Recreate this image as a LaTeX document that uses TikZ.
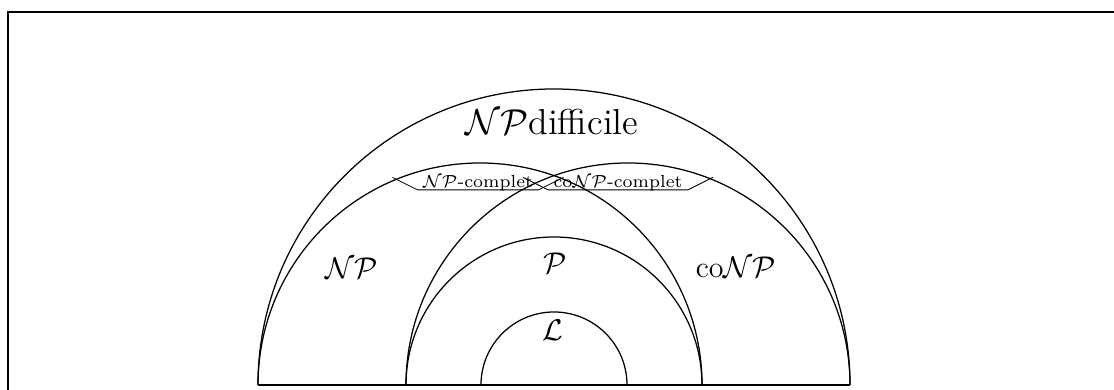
\documentclass[tikz,border=0pt]{standalone}
\begin{document}
\begin{tikzpicture}[x=0.4pt,y=0.4pt,
  arcline/.style={line width=0.5pt},
  frameline/.style={line width=0.9pt},
  lbl/.style={inner sep=0pt,font=\large},
  biglbl/.style={inner sep=0pt,font=\Large},
  smalllbl/.style={inner sep=0pt,font=\scriptsize},
  tick/.style={line width=0.35pt}]
\useasboundingbox (0,0) rectangle (1114,390);
% frame (only left and top edges fall inside the picture)
\coordinate (fbl) at (8,-10);
\coordinate (ftl) at (8,378);
\coordinate (ftr) at (1124,378);
\draw[frameline] (fbl) -- (ftl) -- (ftr);
% base points
\coordinate (a) at (258,5);
\coordinate (b) at (406,5);
\coordinate (c) at (481,5);
\coordinate (d) at (627,5);
\coordinate (e) at (702,5);
\coordinate (f) at (850,5);
\draw[frameline] (a) -- (f);
% arcs
\draw[arcline] (a) arc[start angle=180,end angle=0,radius=296];
\draw[arcline] (a) arc[start angle=180,end angle=0,radius=222];
\draw[arcline] (b) arc[start angle=180,end angle=0,radius=222];
\draw[arcline] (b) arc[start angle=180,end angle=0,radius=148];
\draw[arcline] (c) arc[start angle=180,end angle=0,radius=73];
% labels
\node[biglbl] (nphard) at (552,268) {$\mathcal{NP}$difficile};
\node[lbl] (np) at (352,122) {$\mathcal{NP}$};
\node[lbl] (p) at (555,127) {$\mathcal{P}$};
\node[lbl] (conp) at (736,123) {co$\mathcal{NP}$};
\node[lbl] (l) at (553,60) {$\mathcal{L}$};
\node[smalllbl] (npc) at (478,207) {$\mathcal{NP}$-complet};
\node[smalllbl] (conpc) at (618,207) {co$\mathcal{NP}$-complet};
% small strokes around the small labels
\draw[tick] ([xshift=-12,yshift=4]npc.base west) -- ([xshift=-2,yshift=-1]npc.base west) -- ([xshift=2,yshift=-1]npc.base east) -- ([xshift=12,yshift=4]npc.base east);
\draw[tick] ([xshift=-12,yshift=4]conpc.base west) -- ([xshift=-2,yshift=-1]conpc.base west) -- ([xshift=2,yshift=-1]conpc.base east) -- ([xshift=12,yshift=4]conpc.base east);
\end{tikzpicture}
\end{document}
